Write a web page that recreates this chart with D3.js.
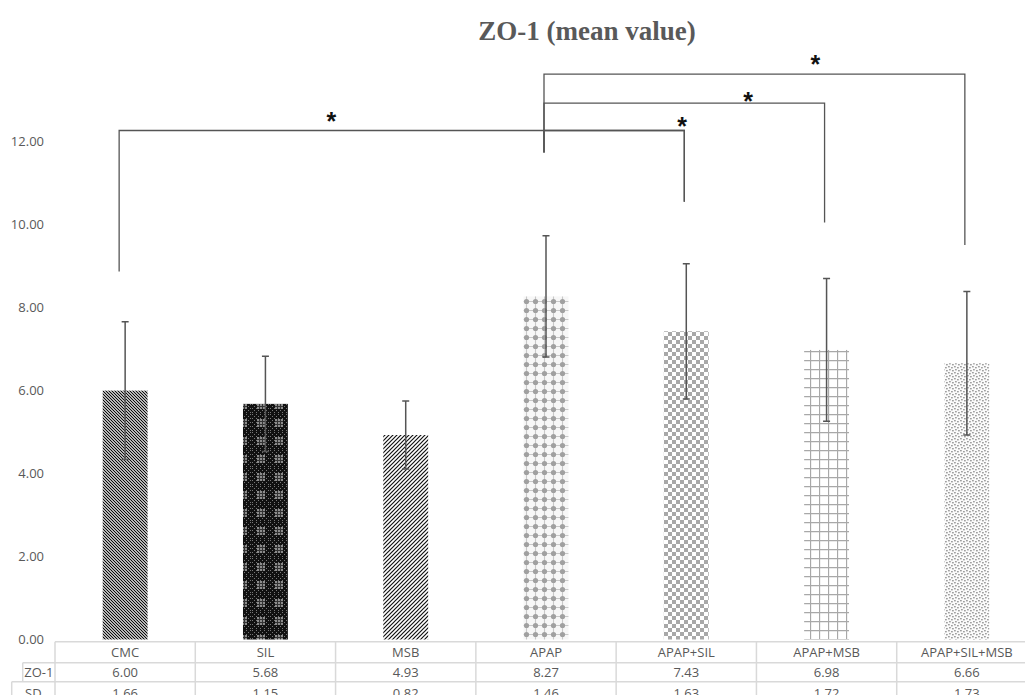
<!DOCTYPE html>
<html>
<head>
<meta charset="utf-8">
<script src="https://cdn.jsdelivr.net/npm/d3@7"></script>
<style>
  body { margin: 0; background: #fff; }
  svg { display: block; }
</style>
</head>
<body>
<div id="chart"></div>
<script>
// data
const categories = ["CMC", "SIL", "MSB", "APAP", "APAP+SIL", "APAP+MSB", "APAP+SIL+MSB"];
const zo1 = [6.00, 5.68, 4.93, 8.27, 7.43, 6.98, 6.66];
const sd = [1.66, 1.15, 0.82, 1.46, 1.63, 1.72, 1.73];
const yTicks = [0, 2, 4, 6, 8, 10, 12];
const rowLabels = ["ZO-1", "SD"];
const patternIds = ["pCMC", "pSIL", "pMSB", "pAPAP", "pAPAPSIL", "pAPAPMSB", "pAPAPSILMSB"];

// significance brackets (values in y units, star position as category index)
const bracketFrom = ["CMC", "APAP", "APAP", "APAP"];
const bracketTo = ["APAP+SIL", "APAP+SIL", "APAP+MSB", "APAP+SIL+MSB"];
const bracketLevel = [12.27, 12.27, 12.93, 13.63];
const bracketDropFrom = [8.87, 11.74, 11.74, 11.74];
const bracketDropTo = [10.55, 10.55, 10.05, 9.51];
const starAt = [1.47, 3.97, 4.44, 4.92];
const starY = [12.62, 12.51, 13.09, 13.99];

const width = 1025;
const height = 695;
const textColor = "#595959";
const lineColor = "#d9d9d9";
const fontFamily = "'Open Sans', 'DejaVu Sans', sans-serif";

const svg = d3.select("#chart")
    .append("svg")
    .attr("width", width)
    .attr("height", height);

// patterns
const defs = svg.append("defs");

// CMC: dense downward diagonal
let p = defs.append("pattern").attr("id", "pCMC")
    .attr("patternUnits", "userSpaceOnUse").attr("width", 3).attr("height", 3);
p.append("rect").attr("width", 3).attr("height", 3).attr("fill", "#fff");
p.append("path").attr("d", "M0,0 L3,3 M-1,2 L1,4 M2,-1 L4,1")
    .attr("stroke", "#000").attr("stroke-width", 1.1);

// SIL: dark with grey windows
p = defs.append("pattern").attr("id", "pSIL")
    .attr("patternUnits", "userSpaceOnUse").attr("width", 18).attr("height", 18);
p.append("rect").attr("width", 18).attr("height", 18).attr("fill", "#111");
for (let i = 0; i < 18; i += 2) {
    for (let j = 0; j < 18; j += 2) {
        if ((i + j) % 4 === 0) p.append("rect").attr("x", i).attr("y", j)
            .attr("width", 1).attr("height", 1).attr("fill", "#777");
    }
}
p.append("rect").attr("x", 5).attr("y", 5).attr("width", 8).attr("height", 8).attr("fill", "#8c8c8c");
p.append("path").attr("d", "M7.5,5 V13 M10.5,5 V13 M5,7.5 H13 M5,10.5 H13")
    .attr("stroke", "#333").attr("stroke-width", 1);

// MSB: upward diagonal
p = defs.append("pattern").attr("id", "pMSB")
    .attr("patternUnits", "userSpaceOnUse").attr("width", 4).attr("height", 4);
p.append("rect").attr("width", 4).attr("height", 4).attr("fill", "#fff");
p.append("path").attr("d", "M0,4 L4,0 M-1,1 L1,-1 M3,5 L5,3")
    .attr("stroke", "#111").attr("stroke-width", 1.2);

// APAP: grey dotted diamonds
p = defs.append("pattern").attr("id", "pAPAP")
    .attr("patternUnits", "userSpaceOnUse").attr("width", 9).attr("height", 9);
p.append("rect").attr("width", 9).attr("height", 9).attr("fill", "#f7f7f7");
p.append("path").attr("d", "M0,4.5 H9 M4.5,0 V9")
    .attr("stroke", "#c8c8c8").attr("stroke-width", 1.1);
p.append("circle").attr("cx", 4.5).attr("cy", 4.5).attr("r", 2.6).attr("fill", "#a0a0a0");

// APAP+SIL: checkerboard
p = defs.append("pattern").attr("id", "pAPAPSIL")
    .attr("patternUnits", "userSpaceOnUse").attr("width", 8).attr("height", 8);
p.append("rect").attr("width", 8).attr("height", 8).attr("fill", "#fff");
p.append("rect").attr("width", 4).attr("height", 4).attr("fill", "#a8a8a8");
p.append("rect").attr("x", 4).attr("y", 4).attr("width", 4).attr("height", 4).attr("fill", "#a8a8a8");

// APAP+MSB: grid
p = defs.append("pattern").attr("id", "pAPAPMSB")
    .attr("patternUnits", "userSpaceOnUse").attr("width", 9).attr("height", 9);
p.append("rect").attr("width", 9).attr("height", 9).attr("fill", "#fff");
p.append("path").attr("d", "M0.5,0 V9 M0,0.5 H9")
    .attr("stroke", "#a8a8a8").attr("stroke-width", 1.3);

// APAP+SIL+MSB: fine dots
p = defs.append("pattern").attr("id", "pAPAPSILMSB")
    .attr("patternUnits", "userSpaceOnUse").attr("width", 6).attr("height", 6);
p.append("rect").attr("width", 6).attr("height", 6).attr("fill", "#fbfbfb");
[[0, 0], [3, 1], [1, 3], [4, 4]].forEach(function(d) {
    p.append("rect").attr("x", d[0]).attr("y", d[1])
        .attr("width", 1.8).attr("height", 1.4).attr("fill", "#a0a0a0");
});

// scales
const xScale = d3.scaleBand()
    .domain(categories)
    .range([55, 1037]);

const yScale = d3.scaleLinear()
    .domain([0, 12])
    .range([639.5, 141.7]);

const barW = xScale.bandwidth() * 0.32;
const cx = c => xScale(c) + xScale.bandwidth() / 2;
const cxIndex = i => xScale.range()[0] + (i + 0.5) * xScale.step();

// title
svg.append("text")
    .attr("x", 587)
    .attr("y", 40)
    .attr("text-anchor", "middle")
    .style("font-family", "'Liberation Serif', 'Times New Roman', serif")
    .style("font-weight", "bold")
    .style("font-size", "27px")
    .style("fill", textColor)
    .text("ZO-1 (mean value)");

// y axis labels (no axis line)
const yAxis = svg.append("g")
    .attr("transform", "translate(44,0)")
    .call(d3.axisLeft(yScale).tickValues(yTicks).tickFormat(d3.format(".2f")).tickSize(0).tickPadding(0));
yAxis.select(".domain").remove();
yAxis.selectAll("text")
    .style("font-family", fontFamily)
    .style("font-size", "13px")
    .style("fill", textColor);

// bars
svg.append("g").selectAll("rect")
    .data(categories)
    .join("rect")
    .attr("x", d => cx(d) - barW / 2)
    .attr("width", barW)
    .attr("y", (d, i) => yScale(zo1[i]))
    .attr("height", (d, i) => yScale(0) - yScale(zo1[i]))
    .attr("fill", (d, i) => `url(#${patternIds[i]})`);

// error bars
const err = svg.append("g")
    .attr("stroke", "#555")
    .attr("stroke-width", 1.5)
    .attr("fill", "none");
categories.forEach(function(c, i) {
    const x = cx(c);
    const top = yScale(zo1[i] + sd[i]);
    const bot = yScale(zo1[i] - sd[i]);
    err.append("path")
        .attr("d", `M${x},${top} V${bot} M${x - 3.5},${top} H${x + 3.5} M${x - 3.5},${bot} H${x + 3.5}`);
});

// significance brackets
const br = svg.append("g")
    .attr("stroke", "#555")
    .attr("stroke-width", 1.3)
    .attr("fill", "none");
bracketFrom.forEach(function(f, i) {
    const x1 = cx(f) - (i === 0 ? 6 : 2);
    const x2 = cx(bracketTo[i]) - 2;
    const yl = yScale(bracketLevel[i]);
    br.append("path")
        .attr("d", `M${x1},${yScale(bracketDropFrom[i])} V${yl} H${x2} V${yScale(bracketDropTo[i])}`);
    svg.append("text")
        .attr("x", cxIndex(starAt[i]))
        .attr("y", yScale(starY[i]) + 14)
        .attr("text-anchor", "middle")
        .style("font-family", "'Liberation Sans', Arial, sans-serif")
        .style("font-weight", "bold")
        .style("font-size", "25px")
        .style("fill", "#111")
        .text("*");
});

// data table
const tableTop = 641.7;
const rowH = [21, 19, 20];
const rowY = [tableTop, tableTop + rowH[0], tableTop + rowH[0] + rowH[1], tableTop + rowH[0] + rowH[1] + rowH[2]];
const labelLeft = [22.7, 11.7];
const xLeft = xScale.range()[0];
const xRight = xScale.range()[1];

const tbl = svg.append("g")
    .attr("stroke", lineColor)
    .attr("stroke-width", 1.5)
    .attr("fill", "none");
tbl.append("path").attr("d", `M${xLeft},${rowY[0]} H${xRight}`);
tbl.append("path").attr("d", `M${labelLeft[0]},${rowY[1]} H${xRight}`);
tbl.append("path").attr("d", `M${labelLeft[1]},${rowY[2]} H${xRight}`);
tbl.append("path").attr("d", `M${labelLeft[0]},${rowY[1]} V${rowY[2]}`);
tbl.append("path").attr("d", `M${labelLeft[1]},${rowY[2]} V${rowY[3] + 10}`);
categories.concat(["end"]).forEach(function(c, i) {
    const x = xLeft + i * xScale.step();
    tbl.append("path").attr("d", `M${x},${rowY[0]} V${rowY[3] + 10}`);
});

const cellText = function(x, y, t) {
    svg.append("text")
        .attr("x", x)
        .attr("y", y)
        .attr("text-anchor", "middle")
        .attr("dominant-baseline", "central")
        .style("font-family", fontFamily)
        .style("font-size", "13px")
        .style("fill", textColor)
        .text(t);
};

categories.forEach(function(c, i) {
    cellText(cx(c), (rowY[0] + rowY[1]) / 2, c);
    cellText(cx(c), (rowY[1] + rowY[2]) / 2, zo1[i].toFixed(2));
    cellText(cx(c), (rowY[2] + rowY[3]) / 2 + 1, sd[i].toFixed(2));
});
rowLabels.forEach(function(r, i) {
    cellText((labelLeft[i] + xLeft) / 2, (rowY[i + 1] + rowY[i + 2]) / 2 + (i ? 1 : 0), r);
});
</script>
</body>
</html>
